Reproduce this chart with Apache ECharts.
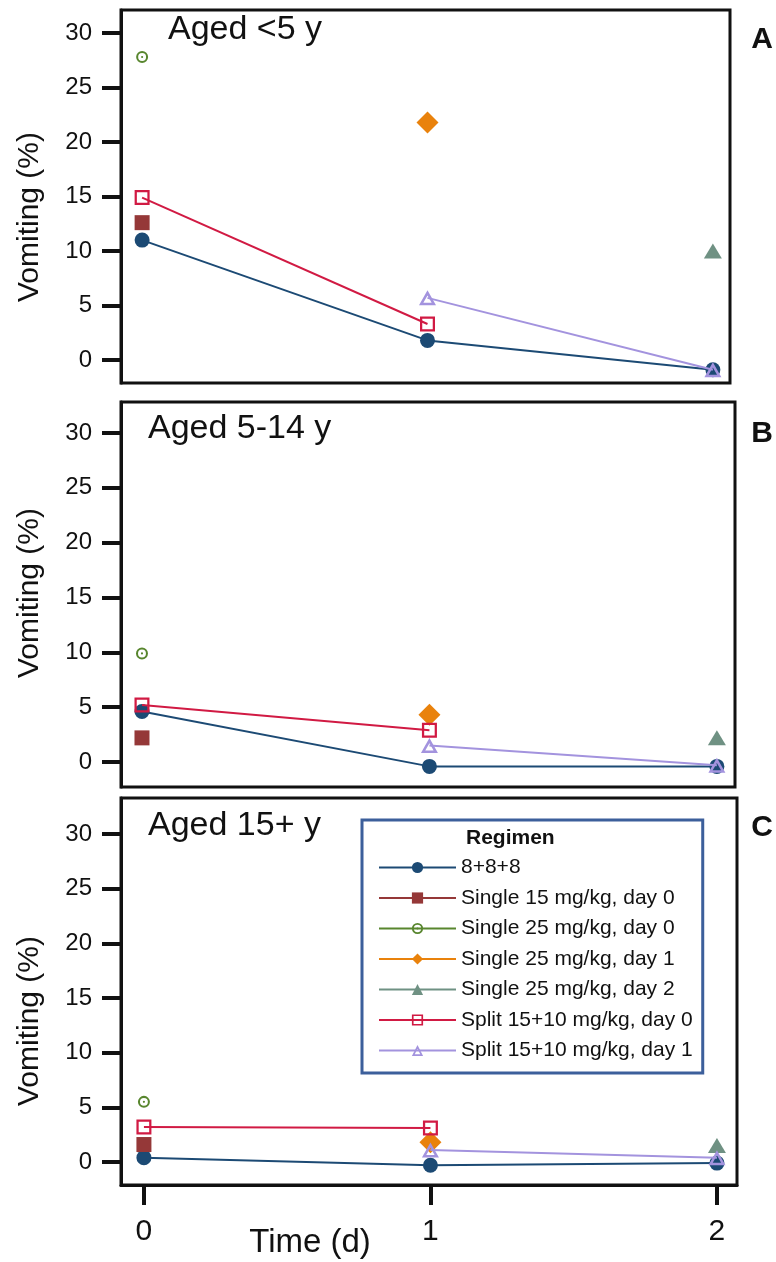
<!DOCTYPE html>
<html>
<head>
<meta charset="utf-8">
<script src="https://cdn.jsdelivr.net/npm/echarts@6/dist/echarts.min.js"></script>
<style>
html,body{margin:0;padding:0;background:#fff;}
#chart{width:776px;height:1262px;}
</style>
</head>
<body>
<div id="chart"></div>
<script>
// ---- data ----
const days = [0, 1, 2];
const yTicks = [0, 5, 10, 15, 20, 25, 30];
const xTicks = [0, 1, 2];
const panelTitles = ['Aged <5 y', 'Aged 5-14 y', 'Aged 15+ y'];
const panelLetters = ['A', 'B', 'C'];
const seriesNames = ['8+8+8', 'Single 15 mg/kg, day 0', 'Single 25 mg/kg, day 0',
  'Single 25 mg/kg, day 1', 'Single 25 mg/kg, day 2',
  'Split 15+10 mg/kg, day 0', 'Split 15+10 mg/kg, day 1'];
// values per panel (A, B, C)
const reg888 = [[11.0, 1.8, -0.9], [4.6, -0.4, -0.4], [0.4, -0.3, -0.1]];      // days 0,1,2
const single15d0 = [12.6, 2.2, 1.6];   // day 0
const single25d0 = [27.8, 9.9, 5.5];   // day 0
const single25d1 = [21.8, 4.3, 1.8];   // day 1
const single25d2 = [10.0, 2.2, 1.5];   // day 2
const split15d0 = [[14.9, 3.3], [5.2, 2.9], [3.2, 3.1]];  // days 0,1
const split15d1 = [[5.7, -0.9], [1.5, -0.3], [1.1, 0.4]]; // days 1,2

// ---- styling ----
const FONT = '"Liberation Sans", Arial, sans-serif';
const colors = ['#1c4a74', '#953838', '#58862e', '#e9820c', '#6f9183', '#d11a43', '#a393de'];
const targetPath = 'path://M10,0A10,10 0 1,1 10,20A10,10 0 1,1 10,0Z M10,3.4A6.6,6.6 0 1,0 10,16.6A6.6,6.6 0 1,0 10,3.4Z M10,8.2A1.8,1.8 0 1,1 10,11.8A1.8,1.8 0 1,1 10,8.2Z';
const hollowSquare = 'path://M0,0H20V20H0Z M3,3V17H17V3Z';
const hollowTriangle = 'path://M10,0L20,18L0,18Z M10,6.2L5.1,15L14.9,15Z';
const symbols = ['circle', 'rect', targetPath, 'diamond', 'triangle', hollowSquare, hollowTriangle];
const symSizes = [15, 15, 12, [22, 22], [18, 15], 15, [17, 15]];

const grids = [
  {left: 121, top: 10, width: 609, height: 373},
  {left: 121, top: 402, width: 614, height: 385},
  {left: 121, top: 798, width: 616, height: 387}
];
const xRanges = [[-0.074, 2.06], [-0.073, 2.063], [-0.08, 2.07]];
const yRanges = [[-2.11, 32.11], [-2.28, 32.83], [-2.1, 33.28]];
const vomY = [217, 593, 1021];
const titleX = [168, 148, 148];
const titleY = [30, 429, 826];
const letterY = [40, 434, 828];

const option = {
  animation: false,
  backgroundColor: '#fff',
  textStyle: {fontFamily: FONT},
  grid: grids.map(g => Object.assign({show: true, borderColor: '#111', borderWidth: 3, backgroundColor: 'transparent'}, g)),
  xAxis: grids.map((g, i) => ({
    type: 'value', gridIndex: i, min: xRanges[i][0], max: xRanges[i][1], position: 'bottom',
    axisLine: {show: i === 2, onZero: false, lineStyle: {width: 3, color: '#111'}}, splitLine: {show: false},
    axisTick: i === 2 ? {show: true, inside: false, customValues: xTicks, length: 20, lineStyle: {width: 4, color: '#111'}} : {show: false},
    axisLabel: i === 2 ? {show: true, inside: false, customValues: xTicks, fontSize: 30, margin: 32, color: '#111', fontFamily: FONT} : {show: false}
  })),
  yAxis: grids.map((g, i) => ({
    type: 'value', gridIndex: i, min: yRanges[i][0], max: yRanges[i][1], position: 'left',
    axisLine: {show: true, onZero: false, lineStyle: {width: 3, color: '#111'}}, splitLine: {show: false},
    axisTick: {show: true, inside: false, customValues: yTicks, length: 19, lineStyle: {width: 4, color: '#111'}},
    axisLabel: {show: true, inside: false, customValues: yTicks, fontSize: 24, margin: 29, color: '#111', fontFamily: FONT}
  })),
  legend: {
    orient: 'vertical', left: 362, top: 820,
    padding: [37, 10, 12, 16],
    borderColor: '#3c5f9b', borderWidth: 3, backgroundColor: '#fff',
    itemWidth: 77, itemHeight: 14, itemGap: 9.5,
    textStyle: {fontSize: 21, lineHeight: 21, color: '#111', fontFamily: FONT},
    data: seriesNames
  },
  graphic: [],
  series: []
};

function mk(name, idx, panel, data) {
  return {
    type: 'line', name: name, xAxisIndex: panel, yAxisIndex: panel,
    data: data, symbol: symbols[idx], symbolSize: symSizes[idx],
    showSymbol: true,
    color: colors[idx],
    itemStyle: {color: colors[idx], opacity: 1},
    lineStyle: {color: colors[idx], width: 2},
    z: 2 + idx * 0.1
  };
}

for (let p = 0; p < 3; p++) {
  option.series.push(mk(seriesNames[0], 0, p, days.map((d, k) => [d, reg888[p][k]])));
  option.series.push(mk(seriesNames[1], 1, p, [[days[0], single15d0[p]]]));
  option.series.push(mk(seriesNames[2], 2, p, [[days[0], single25d0[p]]]));
  option.series.push(mk(seriesNames[3], 3, p, [[days[1], single25d1[p]]]));
  option.series.push(mk(seriesNames[4], 4, p, [[days[2], single25d2[p]]]));
  option.series.push(mk(seriesNames[5], 5, p, [[days[0], split15d0[p][0]], [days[1], split15d0[p][1]]]));
  option.series.push(mk(seriesNames[6], 6, p, [[days[1], split15d1[p][0]], [days[2], split15d1[p][1]]]));

  option.graphic.push({
    type: 'text', x: titleX[p], y: titleY[p], z: 10,
    style: {text: panelTitles[p], font: '34px ' + FONT, fill: '#111', textAlign: 'left', textVerticalAlign: 'middle'}
  });
  option.graphic.push({
    type: 'text', x: 762, y: letterY[p], z: 10,
    style: {text: panelLetters[p], font: 'bold 30px ' + FONT, fill: '#111', textAlign: 'center', textVerticalAlign: 'middle'}
  });
  option.graphic.push({
    type: 'text', x: 30, y: vomY[p], rotation: Math.PI / 2, z: 10,
    style: {text: 'Vomiting (%)', font: '30px ' + FONT, fill: '#111', textAlign: 'center', textVerticalAlign: 'middle'}
  });
}
option.graphic.push({
  type: 'text', x: 310, y: 1243, z: 10,
  style: {text: 'Time (d)', font: '33px ' + FONT, fill: '#111', textAlign: 'center', textVerticalAlign: 'middle'}
});
option.graphic.push({
  type: 'text', x: 466, y: 838, z: 10,
  style: {text: 'Regimen', font: 'bold 21px ' + FONT, fill: '#111', textAlign: 'left', textVerticalAlign: 'middle'}
});

const chart = echarts.init(document.getElementById('chart'), null, {renderer: 'canvas'});
chart.setOption(option);
</script>
</body>
</html>
